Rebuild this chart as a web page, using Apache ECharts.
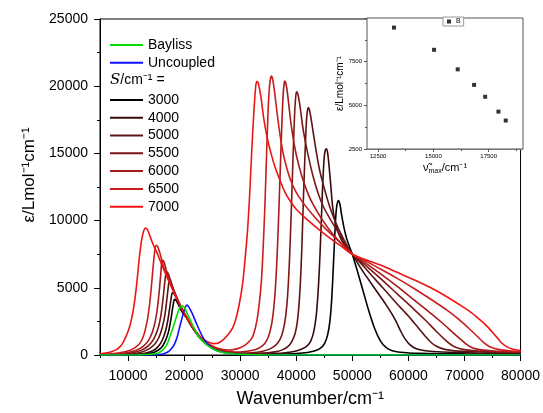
<!DOCTYPE html>
<html><head><meta charset="utf-8">
<script src="https://cdn.jsdelivr.net/npm/echarts@6/dist/echarts.min.js"></script>
<style>html,body{margin:0;padding:0;background:#fff}#c{width:543px;height:413px}</style>
</head><body><div id="c"></div>
<script>
// ---- data ----
const xMajorTicks = [10000,20000,30000,40000,50000,60000,70000,80000];
const xMinorTicks = [5000,15000,25000,35000,45000,55000,65000,75000];
const insetXTicks = [12500,15000,17500];
const insetXMinor = [13750,16250,18750];

const sNames = ['3000','4000','5000','5500','6000','6500','7000'];
const sColors = ['#000000','#3a0a0a','#5c1414','#7e1616','#a81a1a','#cc1c1c','#ee1414'];

const bayliss = [[5000,0],[12000,10],[14000,50],[15500,170],[16500,500],[17000,850],[17400,1300],[18000,2000],[18600,2800],[19100,3400],[19650,3660],[20100,3500],[20600,3050],[21100,2600],[21600,2150],[22200,1650],[22800,1250],[23400,1000],[24200,700],[25100,465],[26000,300],[27000,190],[28000,120],[29000,80],[30000,50],[32000,20],[35000,5],[40000,0],[80000,0]];
const uncoupled = [[5000,0],[14000,10],[16000,60],[17000,200],[17700,450],[18300,830],[18800,1400],[19200,2065],[19600,2700],[19900,3170],[20200,3550],[20500,3710],[20800,3600],[21200,3300],[21600,2950],[22200,2350],[22750,1820],[23300,1350],[23900,960],[24500,680],[25100,470],[26000,300],[27000,180],[28000,110],[30000,40],[33000,10],[36000,0],[80000,0]];

const s3000 = [[5000,3],[12000,30],[13500,100],[14800,230],[15900,530],[16600,1000],[17200,1700],[17600,2550],[17900,3350],[18100,3850],[18280,4140],[18550,4080],[18900,3820],[19400,3380],[19900,3050],[20400,2780],[21000,2360],[21800,1840],[22700,1330],[23600,940],[24500,660],[25300,490],[26000,370],[27000,250],[28000,170],[29000,120],[30000,90],[33000,60],[37000,70],[40000,110],[42000,190],[43500,330],[44500,560],[45100,900],[45600,1500],[46000,2500],[46300,4000],[46550,6000],[46800,8300],[47050,10300],[47250,11150],[47550,11500],[47800,11200],[48100,10400],[48500,9500],[49000,8650],[49500,8050],[50000,7500],[51000,6100],[52000,4650],[53000,3200],[54000,1950],[55000,1050],[56000,560],[57000,330],[58500,210],[62000,130],[70000,80],[80000,60]];
const s4000 = [[5000,5],[11000,40],[13000,130],[14500,330],[15400,640],[16100,1100],[16700,1800],[17100,2600],[17450,3550],[17700,4250],[17900,4620],[18200,4560],[18600,4260],[19200,3760],[19800,3270],[20400,2830],[21000,2380],[21800,1850],[22700,1340],[23600,950],[24500,670],[25300,500],[26000,380],[27000,260],[28000,180],[29000,130],[30000,100],[32000,80],[34000,80],[36000,110],[38000,170],[40000,300],[41000,440],[42000,700],[42600,1050],[43100,1700],[43500,2700],[43800,4100],[44100,6200],[44400,9200],[44700,12500],[44950,14500],[45150,15200],[45350,15340],[45550,15150],[45800,14300],[46100,12900],[46500,11000],[47000,9750],[47600,9000],[48200,8450],[49000,8000],[50000,7500],[51000,6800],[52000,6150],[53000,5550],[54000,4950],[55000,4350],[56000,3750],[57000,3100],[57800,2500],[58600,1800],[59400,1200],[60300,750],[61300,480],[63000,320],[66000,220],[72000,150],[80000,120]];
const s5000 = [[5000,10],[10000,60],[12000,170],[13500,400],[14700,780],[15500,1300],[16100,2050],[16600,3050],[16900,4050],[17150,4950],[17350,5490],[17650,5380],[18000,5000],[18600,4360],[19200,3780],[19800,3280],[20400,2830],[21000,2390],[21800,1860],[22700,1350],[23600,960],[24500,680],[25300,510],[26000,390],[27000,270],[28000,190],[29000,140],[30000,115],[31000,105],[33000,120],[35000,170],[36500,250],[37500,380],[38500,620],[39200,1000],[39800,1600],[40200,2500],[40500,3800],[40750,5500],[41000,8000],[41250,11300],[41550,14800],[41800,17300],[42000,18200],[42150,18410],[42350,18250],[42600,17700],[42900,16900],[43500,15300],[44200,13700],[45000,12400],[46000,11000],[47000,9900],[48000,9000],[49000,8200],[50000,7500],[51000,7050],[52000,6600],[53500,5900],[55000,5200],[56500,4500],[58000,3800],[59000,3350],[60000,2900],[61000,2400],[62000,1900],[63000,1400],[64000,950],[65000,650],[66500,420],[69000,290],[73000,220],[80000,170]];
const s5500 = [[5000,15],[9000,70],[11000,180],[12500,380],[13700,720],[14600,1200],[15400,2050],[15900,3050],[16250,4200],[16550,5400],[16850,6170],[17150,6080],[17500,5650],[18000,5000],[18600,4370],[19200,3790],[19800,3290],[20400,2840],[21000,2400],[21800,1870],[22700,1360],[23600,980],[24500,700],[25300,530],[26000,410],[27000,290],[28000,210],[29000,170],[30000,150],[31000,150],[32000,170],[33000,210],[34000,280],[35000,400],[36000,620],[36800,950],[37400,1450],[37900,2300],[38300,3600],[38600,5400],[38900,8200],[39200,11800],[39500,15600],[39750,18300],[39950,19400],[40090,19590],[40300,19400],[40600,18700],[40800,18100],[41300,16600],[42000,15100],[43000,13300],[44000,11900],[45000,10900],[46500,9800],[48000,8800],[50000,7500],[52000,6800],[55000,5700],[58000,4550],[61000,3400],[63000,2600],[65000,1750],[66500,1150],[67500,800],[68500,560],[70000,400],[73000,280],[80000,200]];
const s6000 = [[5000,25],[8000,80],[10000,180],[11500,360],[12700,650],[13600,1050],[14300,1650],[14900,2600],[15300,3700],[15600,4900],[15850,6100],[16100,7050],[16400,6950],[16800,6350],[17400,5560],[18000,4900],[18600,4330],[19200,3770],[19800,3280],[20400,2840],[21000,2400],[21800,1880],[22700,1380],[23600,1000],[24500,730],[25300,560],[26000,440],[27000,320],[28000,250],[29000,220],[30000,220],[31000,260],[32000,330],[33000,450],[34000,700],[34700,1050],[35300,1700],[35800,2800],[36200,4500],[36500,6600],[36800,9600],[37100,13200],[37400,16800],[37650,19300],[37850,20250],[37960,20380],[38150,20200],[38400,19600],[38700,18500],[39200,16800],[40000,14900],[41000,13300],[42000,12100],[43000,11200],[44500,10150],[46500,9000],[48500,8100],[50000,7500],[52000,6950],[55000,6050],[58000,5100],[61000,4100],[64000,3100],[66000,2400],[68000,1650],[69500,1100],[70500,750],[71500,520],[73000,380],[76000,280],[80000,240]];
const s6500 = [[5000,40],[7000,90],[9000,200],[10500,380],[11500,620],[12300,1000],[12900,1600],[13400,2500],[13800,3600],[14100,4800],[14400,6200],[14700,7500],[15000,8170],[15300,8050],[15700,7550],[16200,6780],[16800,6020],[17400,5430],[18000,4860],[18600,4320],[19200,3770],[19800,3290],[20400,2850],[21000,2420],[21800,1900],[22700,1400],[23600,1020],[24500,780],[25300,620],[26000,500],[27000,400],[28000,370],[29000,420],[30000,540],[31000,770],[32000,1200],[32500,1700],[33000,2600],[33400,3800],[33800,5600],[34100,8000],[34400,11000],[34700,14800],[35000,18400],[35250,20100],[35450,20650],[35590,20750],[35800,20500],[36100,19700],[36300,19000],[36800,17300],[37400,15600],[38000,14400],[39000,13000],[40000,12100],[41000,11450],[43000,10400],[45000,9500],[47500,8500],[50000,7500],[52000,7080],[55000,6400],[58000,5700],[61000,4950],[64000,4150],[67000,3300],[69000,2650],[71000,1900],[72500,1300],[73500,900],[74500,620],[76000,420],[78000,320],[80000,280]];
const s7000 = [[5000,80],[6000,140],[7000,240],[8000,420],[8500,590],[9000,850],[9500,1250],[10000,1750],[10500,2450],[11000,3500],[11500,5100],[12000,7200],[12400,8500],[12800,9250],[13150,9450],[13500,9300],[14000,8750],[14500,8200],[15000,7770],[15600,7150],[16200,6530],[16800,5920],[17400,5380],[18000,4830],[18600,4300],[19200,3750],[19800,3280],[20400,2850],[21000,2450],[21800,1950],[22700,1450],[23600,1120],[24500,930],[25300,850],[26000,880],[27000,1150],[28000,1600],[28700,2050],[29300,2800],[29800,3700],[30400,5200],[30800,6800],[31300,9200],[31700,12000],[32100,15500],[32500,18500],[32750,19900],[32900,20300],[33000,20350],[33200,20250],[33500,19700],[33700,19200],[34200,17600],[34800,16200],[35500,15000],[36200,14000],[37000,13100],[38000,12100],[39000,11400],[40000,10850],[42000,10050],[44000,9350],[46000,8700],[48000,8100],[50000,7500],[52000,7150],[55000,6700],[58000,6150],[61000,5600],[64000,5000],[67000,4300],[70000,3500],[72000,2900],[74000,2150],[75500,1450],[76500,950],[77500,620],[78500,450],[80000,340]];
const sData = [s3000,s4000,s5000,s5500,s6000,s6500,s7000];

// inset: peak position / height of the low-energy band
const nuMax = [13220,15030,16100,16840,17340,17940,18270];
const epsMax = [9450,8180,7060,6170,5490,4640,4130];

// ---- chart ----
const FF = '"Liberation Sans", Arial, sans-serif';
const plain = v => String(v);
const chart = echarts.init(document.getElementById('c'), null, {renderer:'canvas'});

const series = [
  {name:'Bayliss', type:'line', data:bayliss, symbol:'none', smooth:0.3, lineStyle:{color:'#00dd00', width:1.6}, itemStyle:{color:'#00dd00'}, z:4},
  {name:'Uncoupled', type:'line', data:uncoupled, symbol:'none', smooth:0.3, lineStyle:{color:'#1010ff', width:1.6}, itemStyle:{color:'#1010ff'}, z:3},
];
sNames.forEach((n,i)=>{
  series.push({name:n, type:'line', data:sData[i], symbol:'none', smooth:0.3, lineStyle:{color:sColors[i], width:1.6}, itemStyle:{color:sColors[i]}, z:2});
});
series.push({name:'B', type:'scatter', xAxisIndex:2, yAxisIndex:1, data:nuMax.map((v,i)=>[v,epsMax[i]]), symbol:'rect', symbolSize:4, itemStyle:{color:'#000'}, z:6});

const legendText = {fontSize:14, color:'#000', fontFamily:FF, lineHeight:17.8};
const option = {
  animation:false,
  backgroundColor:'#fff',
  textStyle:{fontFamily:FF},
  grid:[
    {left:100, right:20, top:19, bottom:55, show:true, borderColor:'#000', borderWidth:1},
    {left:367, right:20, top:18, bottom:264, show:true, borderColor:'#555', borderWidth:1, backgroundColor:'#fff', z:5}
  ],
  xAxis:[
    {gridIndex:0, type:'value', min:5000, max:80000, position:'bottom',
     axisLine:{onZero:false, lineStyle:{color:'#000', width:1}},
     axisTick:{customValues:xMajorTicks, length:6, lineStyle:{color:'#000'}},
     axisLabel:{customValues:xMajorTicks, formatter:plain, color:'#000', fontSize:14, margin:14, fontFamily:FF},
     splitLine:{show:false},
     name:'Wavenumber/cm⁻¹', nameLocation:'middle', nameGap:35,
     nameTextStyle:{fontSize:18, color:'#000', fontFamily:FF}},
    {gridIndex:0, type:'value', min:5000, max:80000, position:'bottom',
     axisLine:{show:false}, axisTick:{customValues:xMinorTicks, length:3, lineStyle:{color:'#000'}},
     axisLabel:{show:false}, splitLine:{show:false}},
    {gridIndex:1, type:'value', min:12000, max:19050, position:'bottom',
     axisLine:{onZero:false, lineStyle:{color:'#999', width:1}},
     axisTick:{customValues:insetXTicks, length:3, lineStyle:{color:'#555'}},
     axisLabel:{customValues:insetXTicks, formatter:plain, color:'#000', fontSize:6, margin:4, fontFamily:FF},
     splitLine:{show:false},
     name:'{a|ν̃}{b|max}{a|/cm⁻¹}', nameLocation:'middle', nameGap:12,
     nameTextStyle:{rich:{a:{fontSize:11, color:'#000', fontFamily:FF, lineHeight:14}, b:{fontSize:7, color:'#000', fontFamily:FF, verticalAlign:'bottom', lineHeight:14}}}},
    {gridIndex:1, type:'value', min:12000, max:19050, position:'bottom',
     axisLine:{show:false}, axisTick:{customValues:insetXMinor, length:2, lineStyle:{color:'#555'}},
     axisLabel:{show:false}, splitLine:{show:false}}
  ],
  yAxis:[
    {gridIndex:0, type:'value', min:0, max:25000, interval:5000,
     axisLine:{show:true, onZero:false, lineStyle:{color:'#000', width:1}},
     axisTick:{show:true, length:6, lineStyle:{color:'#000'}},
     minorTick:{show:true, splitNumber:2, length:3, lineStyle:{color:'#000'}},
     axisLabel:{formatter:plain, color:'#000', fontSize:14, margin:12, fontFamily:FF},
     splitLine:{show:false},
     name:'ε/Lmol⁻¹cm⁻¹', nameLocation:'middle', nameGap:60,
     nameTextStyle:{fontSize:17, color:'#000', fontFamily:FF, padding:[0,0,0,24]}},
    {gridIndex:1, type:'value', min:2500, max:10000, interval:2500,
     axisLine:{show:true, onZero:false, lineStyle:{color:'#999', width:1}},
     axisTick:{show:true, length:3, lineStyle:{color:'#555'}},
     minorTick:{show:true, splitNumber:2, length:2, lineStyle:{color:'#555'}},
     axisLabel:{color:'#000', fontSize:6, margin:5, fontFamily:FF, formatter:v=> v===10000?'':String(v)},
     splitLine:{show:false},
     name:'ε/Lmol⁻¹cm⁻¹', nameLocation:'middle', nameGap:21,
     nameTextStyle:{fontSize:10, color:'#000', fontFamily:FF}}
  ],
  legend:[
    {orient:'vertical', left:110, top:36, padding:0, itemGap:0, itemWidth:33, itemHeight:2, icon:'rect',
     selectedMode:false, textStyle:legendText, data:['Bayliss','Uncoupled']},
    {orient:'vertical', left:110, top:91, padding:0, itemGap:0, itemWidth:33, itemHeight:2, icon:'rect',
     selectedMode:false, textStyle:legendText, data:sNames},
    {left:443, top:17, padding:[1,3,1,4], itemWidth:4, itemHeight:4, itemGap:2, icon:'rect',
     selectedMode:false, borderColor:'#999', borderWidth:1, backgroundColor:'#fff',
     textStyle:{fontSize:7, color:'#000', fontFamily:FF}, data:['B'], z:10}
  ],
  graphic:[
    {type:'text', left:110, top:73, z:10,
     style:{text:'{i|S}{t|/cm⁻¹ =}', rich:{
       i:{fontSize:15, fontStyle:'italic', fontFamily:'"DejaVu Serif", serif', fill:'#000'},
       t:{fontSize:14, fontFamily:FF, fill:'#000'}}}}
  ],
  series:series
};
chart.setOption(option);
</script>
</body></html>
